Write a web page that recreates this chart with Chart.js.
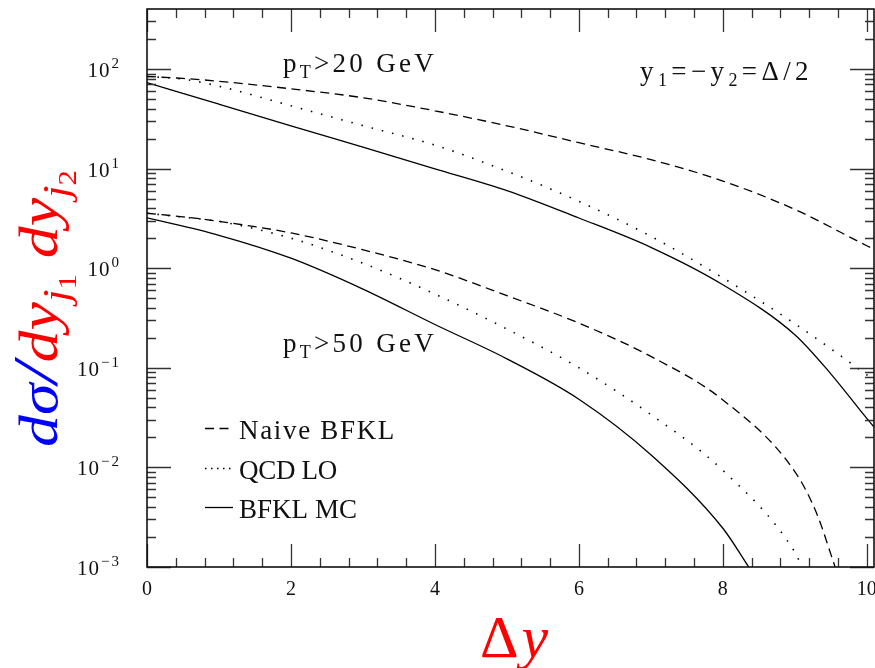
<!DOCTYPE html>
<html>
<head>
<meta charset="utf-8">
<script src="https://cdn.jsdelivr.net/npm/chart.js@4/dist/chart.umd.min.js"></script>
<style>html,body{margin:0;padding:0;background:#fff}</style>
</head>
<body>
<canvas id="myChart" width="875" height="668"></canvas>
<script>
const ctx = document.getElementById('myChart');

// tick labels
const xTickValues = [0, 2, 4, 6, 8, 10];
const xTickLabels = ['0', '2', '4', '6', '8', '10'];
const yDecades = [-3, -2, -1, 0, 1, 2];
const yExpLabels = ['\u22123', '\u22122', '\u22121', '0', '1', '2'];

// pT > 20 GeV
const naive20X = [0, 0.5, 1, 2, 3, 4, 5, 6, 7, 8, 9, 10, 10.1];
const naive20 = [84, 80.4, 75.3, 63.2, 51.4, 38.0, 26.9, 18.2, 12.3, 7.5, 3.89, 1.68, 1.55];
const lo20X = [0, 0.5, 1, 2, 3, 4, 5, 6, 7, 8, 9, 10, 10.1];
const lo20 = [84, 79, 67.1, 42.7, 27.0, 17.2, 9.4, 4.69, 2.09, 0.80, 0.277, 0.085, 0.075];
const mc20X = [0, 1, 2, 3, 4, 5, 6, 7, 8, 9, 9.5, 10, 10.1];
const mc20 = [73.1, 44.3, 26.9, 16.4, 9.95, 6.01, 3.19, 1.62, 0.682, 0.215, 0.087, 0.031, 0.0255];

// pT > 50 GeV
const naive50X = [0, 0.5, 1, 2, 3, 4, 5, 6, 7, 8, 9, 9.3, 9.56];
const naive50 = [3.56, 3.28, 2.95, 2.26, 1.53, 0.966, 0.530, 0.281, 0.130, 0.0476, 0.00908, 0.0035, 0.001];
const lo50X = [0, 0.5, 1, 2, 3, 4, 5, 6, 7, 8, 9, 9.1];
const lo50 = [3.56, 3.25, 2.95, 2.0, 1.12, 0.55, 0.245, 0.1, 0.0339, 0.00933, 0.00141, 0.001];
const mc50X = [0, 1, 2, 3, 4, 5, 6, 7, 8, 8.36];
const mc50 = [3.20, 2.14, 1.26, 0.617, 0.272, 0.123, 0.0484, 0.0134, 0.00245, 0.001];

const DASHED = [9, 5.5];
const DOTTED = [1.5, 9];
const serif = '"Liberation Serif", "DejaVu Serif", serif';

function pts(xs, ys) {
    return xs.map((x, i) => ({x: x, y: ys[i]}));
}

function line(label, xs, ys, dash, w) {
    return {
        label: label,
        data: pts(xs, ys),
        borderColor: '#000',
        borderWidth: w || 1.3,
        borderDash: dash,
        pointRadius: 0,
        cubicInterpolationMode: 'monotone',
        fill: false,
    };
}

const data = {
    datasets: [
        line('Naive BFKL', naive20X, naive20, DASHED),
        line('QCD LO', lo20X, lo20, DOTTED, 1.6),
        line('BFKL MC', mc20X, mc20, []),
        line('Naive BFKL', naive50X, naive50, DASHED),
        line('QCD LO', lo50X, lo50, DOTTED, 1.6),
        line('BFKL MC', mc50X, mc50, []),
    ]
};

// text helpers
function spacingFor(c, parts, target) {
    c.letterSpacing = '0px';
    let w = 0, n = 0;
    for (const p of parts) {
        c.font = p[1];
        w += c.measureText(p[0]).width;
        n += [...p[0]].length;
    }
    return (target - w) / n;
}

function drawParts(c, x, y, parts, sp) {
    c.letterSpacing = sp + 'px';
    for (const p of parts) {
        c.font = p[1];
        if (p[3]) c.fillStyle = p[3];
        c.fillText(p[0], x, y + (p[2] || 0));
        x += c.measureText(p[0]).width;
    }
    return x;
}

function fitText(c, x, y, parts, target) {
    drawParts(c, x, y, parts, spacingFor(c, parts, target));
}

const frame = {
    id: 'frame',
    afterDatasetsDraw(chart) {
        const c = chart.ctx;
        const a = chart.chartArea;
        const xs = chart.scales.x, ys = chart.scales.y;
        c.save();
        c.strokeStyle = '#333';
        c.lineWidth = 1.3;
        c.setLineDash([]);
        c.beginPath();
        // x ticks, top and bottom, pointing inward
        for (let i = 0; i * 0.4 <= xs.max + 1e-9; i++) {
            const px = Math.round(xs.getPixelForValue(i * 0.4)) + 0.5;
            const len = i % 5 === 0 ? 23 : 9;
            c.moveTo(px, a.bottom); c.lineTo(px, a.bottom - len);
            c.moveTo(px, a.top); c.lineTo(px, a.top + len);
        }
        // y ticks, left and right
        for (const d of yDecades) {
            for (let m = 1; m <= 9; m++) {
                const v = m * Math.pow(10, d);
                if (v >= ys.max) break;
                const py = Math.round(ys.getPixelForValue(v)) + 0.5;
                const len = m === 1 ? 24 : 9;
                c.moveTo(a.left, py); c.lineTo(a.left + len, py);
                c.moveTo(a.right, py); c.lineTo(a.right - len, py);
            }
        }
        c.stroke();
        c.strokeStyle = '#111';
        c.lineWidth = 1.6;
        c.strokeRect(a.left, a.top, a.right - a.left, a.bottom - a.top);
        c.restore();
    },
    afterDraw(chart) {
        const c = chart.ctx;
        const xs = chart.scales.x, ys = chart.scales.y;
        const F27 = '27px ' + serif, F18 = '18px ' + serif;
        c.save();
        c.fillStyle = '#111';
        c.textBaseline = 'alphabetic';

        // x tick labels
        c.font = '20px ' + serif;
        c.textAlign = 'center';
        xTickValues.forEach((v, i) => {
            c.fillText(xTickLabels[i], xs.getPixelForValue(v), 595);
        });

        // y tick labels 10^n
        c.textAlign = 'right';
        yDecades.forEach((d, i) => {
            const py = ys.getPixelForValue(Math.pow(10, d));
            c.font = '15px ' + serif;
            c.letterSpacing = '2px';
            const ew = c.measureText(yExpLabels[i]).width;
            c.fillText(yExpLabels[i], 121, py - 1);
            c.font = '21px ' + serif;
            c.letterSpacing = '1px';
            c.fillText('10', 121 - ew - 1, py + 8);
        });
        c.textAlign = 'left';

        // annotations
        fitText(c, 283, 72, [['p', F27], ['T', F18, 6], ['>20 GeV', F27]], 154);
        fitText(c, 283, 352, [['p', F27], ['T', F18, 6], ['>50 GeV', F27]], 154);
        fitText(c, 640, 80, [['y', F27], ['1', F18, 6], ['=\u2212y', F27], ['2', F18, 6], ['=\u0394/2', F27]], 173);

        // legend
        const legend = [
            ['Naive BFKL', DASHED, 428, 439, 157, 1.3],
            ['QCD LO', [1.5, 4.5], 468, 479, 98, 1.6],
            ['BFKL MC', [], 507, 518, 118, 1.3],
        ];
        for (const l of legend) {
            c.beginPath();
            c.setLineDash(l[1]);
            c.lineWidth = l[5];
            c.strokeStyle = '#000';
            c.moveTo(205, l[2] + 0.5);
            c.lineTo(l[1].length ? 233 : 233, l[2] + 0.5);
            c.stroke();
            fitText(c, 239, l[3], [[l[0], F27]], l[4]);
        }
        c.setLineDash([]);

        // x axis title
        c.letterSpacing = '0px';
        c.fillStyle = '#ff0000';
        c.font = '60px ' + serif;
        c.fillText('\u0394', 480, 657);
        const dw = c.measureText('\u0394').width;
        c.font = 'italic 60px ' + serif;
        c.fillText('y', 480 + dw + 3, 657);

        // y axis title, rotated
        const B = 'italic 54px ' + serif, S = 'italic 38px ' + serif, SS = '26px ' + serif;
        const blue = '#0000ff', red = '#ff0000';
        const parts = [
            ['d\u03c3', B, 0, blue], ['/', 'italic 64px ' + serif, 0, blue],
            ['dy', B, 0, red], ['j', S, 12, red], ['1', SS, 19, red], [' ', B, 0, red],
            ['dy', B, 0, red], ['j', S, 12, red], ['2', SS, 19, red],
        ];
        c.letterSpacing = '0px';
        let w = 0;
        for (const p of parts) { c.font = p[1]; w += c.measureText(p[0]).width; }
        c.translate(57, 447);
        c.rotate(-Math.PI / 2);
        c.scale(277 / w, 1);
        drawParts(c, 0, 0, parts, 0);
        c.restore();
    }
};

new Chart(ctx, {
    type: 'line',
    data: data,
    plugins: [frame],
    options: {
        responsive: false,
        maintainAspectRatio: false,
        animation: false,
        devicePixelRatio: 1,
        layout: {
            padding: {left: 147, right: 1, top: 9, bottom: 101}
        },
        plugins: {
            legend: {display: false},
            tooltip: {enabled: false},
        },
        scales: {
            x: {
                type: 'linear',
                display: false,
                min: 0,
                max: 10.1,
            },
            y: {
                type: 'logarithmic',
                display: false,
                min: 0.001,
                max: 400,
            }
        }
    }
});
</script>
</body>
</html>
